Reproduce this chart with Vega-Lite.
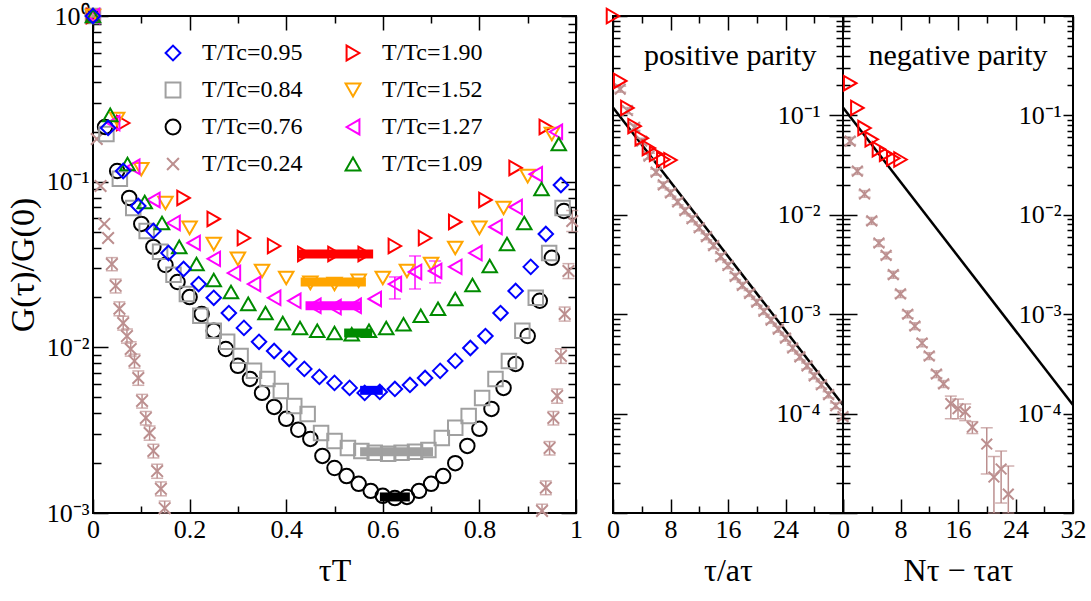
{
  "$schema": "https://vega.github.io/schema/vega-lite/v6.json",
  "background": "white",
  "padding": {"left": 5, "top": 2, "right": 5, "bottom": 5},
  "bounds": "flush",
  "spacing": 37,
  "config": {
    "view": {"stroke": "black", "strokeWidth": 2},
    "font": "Liberation Serif",
    "axis": {"domain": false, "grid": false, "tickColor": "black", "tickWidth": 1.5, "labelFont": "Liberation Serif", "labelFontSize": 26, "labelColor": "black", "titleFont": "Liberation Serif", "titleFontSize": 32, "titleFontWeight": "normal", "titleColor": "black", "labelOverlap": false, "labelFlush": false, "labelBound": false}
  },
  "datasets": {
    "left": [
      {"s":"T/Tc=0.24","x":0,"y":1},{"s":"T/Tc=0.24","x":0.0078,"y":0.181},{"s":"T/Tc=0.24","x":0.0156,"y":0.0942},{"s":"T/Tc=0.24","x":0.0234,"y":0.0556},{"s":"T/Tc=0.24","x":0.0313,"y":0.0457},
      {"s":"T/Tc=0.24","x":0.0391,"y":0.0318,"lo":0.029,"hi":0.0348},{"s":"T/Tc=0.24","x":0.0469,"y":0.0235,"lo":0.0213,"hi":0.0258},{"s":"T/Tc=0.24","x":0.0547,"y":0.0171,"lo":0.0155,"hi":0.0188},{"s":"T/Tc=0.24","x":0.0625,"y":0.014,"lo":0.0127,"hi":0.0154},{"s":"T/Tc=0.24","x":0.0703,"y":0.0117,"lo":0.0106,"hi":0.0129},{"s":"T/Tc=0.24","x":0.0781,"y":0.00977,"lo":0.00885,"hi":0.0108},{"s":"T/Tc=0.24","x":0.0859,"y":0.00828,"lo":0.0075,"hi":0.0091},{"s":"T/Tc=0.24","x":0.0938,"y":0.00653,"lo":0.0059,"hi":0.0072},{"s":"T/Tc=0.24","x":0.1016,"y":0.00475,"lo":0.0043,"hi":0.0052},{"s":"T/Tc=0.24","x":0.1094,"y":0.00375,"lo":0.0034,"hi":0.0041},{"s":"T/Tc=0.24","x":0.1172,"y":0.00304,"lo":0.00275,"hi":0.00335},{"s":"T/Tc=0.24","x":0.125,"y":0.00237,"lo":0.00215,"hi":0.0026},{"s":"T/Tc=0.24","x":0.1328,"y":0.00179,"lo":0.00162,"hi":0.00197},{"s":"T/Tc=0.24","x":0.1406,"y":0.0014,"lo":0.00127,"hi":0.00154},{"s":"T/Tc=0.24","x":0.1484,"y":0.00107,"lo":0.001,"hi":0.00118},
      {"s":"T/Tc=0.24","x":0.9297,"y":0.00103,"lo":0.001,"hi":0.00113},{"s":"T/Tc=0.24","x":0.9375,"y":0.00142,"lo":0.00129,"hi":0.00156},{"s":"T/Tc=0.24","x":0.9453,"y":0.00247,"lo":0.00224,"hi":0.0027},{"s":"T/Tc=0.24","x":0.9531,"y":0.00375,"lo":0.0034,"hi":0.0041},{"s":"T/Tc=0.24","x":0.9609,"y":0.00509,"lo":0.0046,"hi":0.0056},{"s":"T/Tc=0.24","x":0.9688,"y":0.00888,"lo":0.008,"hi":0.0098},{"s":"T/Tc=0.24","x":0.9766,"y":0.0159,"lo":0.0144,"hi":0.0175},{"s":"T/Tc=0.24","x":0.9844,"y":0.0289,"lo":0.026,"hi":0.032},{"s":"T/Tc=0.24","x":0.9922,"y":0.0579,"lo":0.05,"hi":0.067},
      {"s":"T/Tc=0.76","x":0,"y":1},{"s":"T/Tc=0.76","x":0.025,"y":0.214},{"s":"T/Tc=0.76","x":0.05,"y":0.116},{"s":"T/Tc=0.76","x":0.075,"y":0.0798},{"s":"T/Tc=0.76","x":0.1,"y":0.0556},{"s":"T/Tc=0.76","x":0.125,"y":0.0404},{"s":"T/Tc=0.76","x":0.15,"y":0.0314},{"s":"T/Tc=0.76","x":0.175,"y":0.0248},{"s":"T/Tc=0.76","x":0.2,"y":0.0201},{"s":"T/Tc=0.76","x":0.225,"y":0.0159},{"s":"T/Tc=0.76","x":0.25,"y":0.0126},{"s":"T/Tc=0.76","x":0.275,"y":0.00977},{"s":"T/Tc=0.76","x":0.3,"y":0.00773},{"s":"T/Tc=0.76","x":0.325,"y":0.00645},{"s":"T/Tc=0.76","x":0.35,"y":0.00531},{"s":"T/Tc=0.76","x":0.375,"y":0.00437},{"s":"T/Tc=0.76","x":0.4,"y":0.0037},{"s":"T/Tc=0.76","x":0.425,"y":0.00318},{"s":"T/Tc=0.76","x":0.45,"y":0.0028},{"s":"T/Tc=0.76","x":0.475,"y":0.00221},{"s":"T/Tc=0.76","x":0.5,"y":0.00187},{"s":"T/Tc=0.76","x":0.525,"y":0.00167},{"s":"T/Tc=0.76","x":0.55,"y":0.0015},{"s":"T/Tc=0.76","x":0.575,"y":0.00136},{"s":"T/Tc=0.76","x":0.6,"y":0.00127},{"s":"T/Tc=0.76","x":0.625,"y":0.00123},{"s":"T/Tc=0.76","x":0.65,"y":0.00125},{"s":"T/Tc=0.76","x":0.675,"y":0.00136},{"s":"T/Tc=0.76","x":0.7,"y":0.0015},{"s":"T/Tc=0.76","x":0.725,"y":0.00167},{"s":"T/Tc=0.76","x":0.75,"y":0.002},{"s":"T/Tc=0.76","x":0.775,"y":0.00254},{"s":"T/Tc=0.76","x":0.8,"y":0.00322},{"s":"T/Tc=0.76","x":0.825,"y":0.00425},{"s":"T/Tc=0.76","x":0.85,"y":0.00569},{"s":"T/Tc=0.76","x":0.875,"y":0.00794},{"s":"T/Tc=0.76","x":0.9,"y":0.0117},{"s":"T/Tc=0.76","x":0.925,"y":0.0191},{"s":"T/Tc=0.76","x":0.95,"y":0.0347},{"s":"T/Tc=0.76","x":0.975,"y":0.0665},
      {"s":"T/Tc=0.84","x":0,"y":1},{"s":"T/Tc=0.84","x":0.0278,"y":0.194},{"s":"T/Tc=0.84","x":0.0556,"y":0.104},{"s":"T/Tc=0.84","x":0.0833,"y":0.0694},{"s":"T/Tc=0.84","x":0.1111,"y":0.0504},{"s":"T/Tc=0.84","x":0.1389,"y":0.0377},{"s":"T/Tc=0.84","x":0.1667,"y":0.0274},{"s":"T/Tc=0.84","x":0.1944,"y":0.021},{"s":"T/Tc=0.84","x":0.2222,"y":0.0155},{"s":"T/Tc=0.84","x":0.25,"y":0.0126},{"s":"T/Tc=0.84","x":0.2778,"y":0.0108},{"s":"T/Tc=0.84","x":0.3056,"y":0.00888},{"s":"T/Tc=0.84","x":0.3333,"y":0.00721},{"s":"T/Tc=0.84","x":0.3611,"y":0.00645},{"s":"T/Tc=0.84","x":0.3889,"y":0.00545},{"s":"T/Tc=0.84","x":0.4167,"y":0.00443},{"s":"T/Tc=0.84","x":0.4444,"y":0.00396},{"s":"T/Tc=0.84","x":0.4722,"y":0.00304},{"s":"T/Tc=0.84","x":0.5,"y":0.00272},{"s":"T/Tc=0.84","x":0.5278,"y":0.00247},{"s":"T/Tc=0.84","x":0.5556,"y":0.00237},{"s":"T/Tc=0.84","x":0.5833,"y":0.00231},{"s":"T/Tc=0.84","x":0.6111,"y":0.00228},{"s":"T/Tc=0.84","x":0.6389,"y":0.00231},{"s":"T/Tc=0.84","x":0.6667,"y":0.00234},{"s":"T/Tc=0.84","x":0.6944,"y":0.0024},{"s":"T/Tc=0.84","x":0.7222,"y":0.00284},{"s":"T/Tc=0.84","x":0.75,"y":0.00327},{"s":"T/Tc=0.84","x":0.7778,"y":0.00385},{"s":"T/Tc=0.84","x":0.8056,"y":0.00495},{"s":"T/Tc=0.84","x":0.8333,"y":0.00645},{"s":"T/Tc=0.84","x":0.8611,"y":0.00828},{"s":"T/Tc=0.84","x":0.8889,"y":0.0126},{"s":"T/Tc=0.84","x":0.9167,"y":0.0199},{"s":"T/Tc=0.84","x":0.9444,"y":0.0371},{"s":"T/Tc=0.84","x":0.9722,"y":0.0694},
      {"s":"T/Tc=1.90","x":0,"y":1},{"s":"T/Tc=1.90","x":0.0625,"y":0.226},{"s":"T/Tc=1.90","x":0.1875,"y":0.0798},{"s":"T/Tc=1.90","x":0.25,"y":0.0596},{"s":"T/Tc=1.90","x":0.3125,"y":0.0457},{"s":"T/Tc=1.90","x":0.375,"y":0.0409},{"s":"T/Tc=1.90","x":0.4375,"y":0.0366},{"s":"T/Tc=1.90","x":0.5,"y":0.0366},{"s":"T/Tc=1.90","x":0.5625,"y":0.0366},{"s":"T/Tc=1.90","x":0.625,"y":0.0409},{"s":"T/Tc=1.90","x":0.6875,"y":0.0457},{"s":"T/Tc=1.90","x":0.75,"y":0.0571},{"s":"T/Tc=1.90","x":0.8125,"y":0.0776},{"s":"T/Tc=1.90","x":0.875,"y":0.121},{"s":"T/Tc=1.90","x":0.9375,"y":0.214},
      {"s":"T/Tc=1.52","x":0,"y":1},{"s":"T/Tc=1.52","x":0.05,"y":0.239},{"s":"T/Tc=1.52","x":0.1,"y":0.119},{"s":"T/Tc=1.52","x":0.15,"y":0.0744},{"s":"T/Tc=1.52","x":0.2,"y":0.0526},{"s":"T/Tc=1.52","x":0.25,"y":0.0421},{"s":"T/Tc=1.52","x":0.3,"y":0.0342},{"s":"T/Tc=1.52","x":0.35,"y":0.0289},{"s":"T/Tc=1.52","x":0.4,"y":0.0262},{"s":"T/Tc=1.52","x":0.45,"y":0.0245},{"s":"T/Tc=1.52","x":0.5,"y":0.0241},{"s":"T/Tc=1.52","x":0.55,"y":0.0252},{"s":"T/Tc=1.52","x":0.6,"y":0.0262},{"s":"T/Tc=1.52","x":0.65,"y":0.0289},{"s":"T/Tc=1.52","x":0.7,"y":0.0318},{"s":"T/Tc=1.52","x":0.75,"y":0.0398},{"s":"T/Tc=1.52","x":0.8,"y":0.0526},{"s":"T/Tc=1.52","x":0.85,"y":0.0694},{"s":"T/Tc=1.52","x":0.9,"y":0.108},{"s":"T/Tc=1.52","x":0.95,"y":0.194},
      {"s":"T/Tc=1.27","x":0,"y":1},{"s":"T/Tc=1.27","x":0.0417,"y":0.226},{"s":"T/Tc=1.27","x":0.0833,"y":0.123},{"s":"T/Tc=1.27","x":0.125,"y":0.0776},{"s":"T/Tc=1.27","x":0.1667,"y":0.0563},{"s":"T/Tc=1.27","x":0.2083,"y":0.0427},{"s":"T/Tc=1.27","x":0.25,"y":0.0342},{"s":"T/Tc=1.27","x":0.2917,"y":0.0281},{"s":"T/Tc=1.27","x":0.3333,"y":0.0241},{"s":"T/Tc=1.27","x":0.375,"y":0.0199},{"s":"T/Tc=1.27","x":0.4167,"y":0.0191},{"s":"T/Tc=1.27","x":0.4583,"y":0.0178},{"s":"T/Tc=1.27","x":0.5,"y":0.0175},{"s":"T/Tc=1.27","x":0.5417,"y":0.0178},{"s":"T/Tc=1.27","x":0.5833,"y":0.0196},{"s":"T/Tc=1.27","x":0.625,"y":0.0241,"lo":0.0196,"hi":0.0266},{"s":"T/Tc=1.27","x":0.6667,"y":0.0285,"lo":0.0225,"hi":0.0356},{"s":"T/Tc=1.27","x":0.7083,"y":0.0289,"lo":0.0245,"hi":0.0332},{"s":"T/Tc=1.27","x":0.75,"y":0.0306},{"s":"T/Tc=1.27","x":0.7917,"y":0.0371},{"s":"T/Tc=1.27","x":0.8333,"y":0.0533},{"s":"T/Tc=1.27","x":0.875,"y":0.0703},{"s":"T/Tc=1.27","x":0.9167,"y":0.111},{"s":"T/Tc=1.27","x":0.9583,"y":0.2},
      {"s":"T/Tc=1.09","x":0,"y":1},{"s":"T/Tc=1.09","x":0.0357,"y":0.253},{"s":"T/Tc=1.09","x":0.0714,"y":0.128},{"s":"T/Tc=1.09","x":0.1071,"y":0.0754},{"s":"T/Tc=1.09","x":0.1429,"y":0.0563},{"s":"T/Tc=1.09","x":0.1786,"y":0.0404},{"s":"T/Tc=1.09","x":0.2143,"y":0.0318},{"s":"T/Tc=1.09","x":0.25,"y":0.0255},{"s":"T/Tc=1.09","x":0.2857,"y":0.0216},{"s":"T/Tc=1.09","x":0.3214,"y":0.0183},{"s":"T/Tc=1.09","x":0.3571,"y":0.0161},{"s":"T/Tc=1.09","x":0.3929,"y":0.014},{"s":"T/Tc=1.09","x":0.4286,"y":0.0131},{"s":"T/Tc=1.09","x":0.4643,"y":0.0126},{"s":"T/Tc=1.09","x":0.5,"y":0.0122},{"s":"T/Tc=1.09","x":0.5357,"y":0.012},{"s":"T/Tc=1.09","x":0.5714,"y":0.0126},{"s":"T/Tc=1.09","x":0.6071,"y":0.0131},{"s":"T/Tc=1.09","x":0.6429,"y":0.0138},{"s":"T/Tc=1.09","x":0.6786,"y":0.0155},{"s":"T/Tc=1.09","x":0.7143,"y":0.0171},{"s":"T/Tc=1.09","x":0.75,"y":0.0196},{"s":"T/Tc=1.09","x":0.7857,"y":0.0238},{"s":"T/Tc=1.09","x":0.8214,"y":0.031},{"s":"T/Tc=1.09","x":0.8571,"y":0.0421},{"s":"T/Tc=1.09","x":0.8929,"y":0.0563},{"s":"T/Tc=1.09","x":0.9286,"y":0.0903},{"s":"T/Tc=1.09","x":0.9643,"y":0.169},
      {"s":"T/Tc=0.95","x":0,"y":1},{"s":"T/Tc=0.95","x":0.03125,"y":0.211},{"s":"T/Tc=0.95","x":0.0625,"y":0.116},{"s":"T/Tc=0.95","x":0.09375,"y":0.0713},{"s":"T/Tc=0.95","x":0.125,"y":0.0504},{"s":"T/Tc=0.95","x":0.15625,"y":0.0371},{"s":"T/Tc=0.95","x":0.1875,"y":0.0297},{"s":"T/Tc=0.95","x":0.21875,"y":0.0241},{"s":"T/Tc=0.95","x":0.25,"y":0.0199},{"s":"T/Tc=0.95","x":0.28125,"y":0.0161},{"s":"T/Tc=0.95","x":0.3125,"y":0.0131},{"s":"T/Tc=0.95","x":0.34375,"y":0.0108},{"s":"T/Tc=0.95","x":0.375,"y":0.0095},{"s":"T/Tc=0.95","x":0.40625,"y":0.0085},{"s":"T/Tc=0.95","x":0.4375,"y":0.00741},{"s":"T/Tc=0.95","x":0.46875,"y":0.00663},{"s":"T/Tc=0.95","x":0.5,"y":0.0061},{"s":"T/Tc=0.95","x":0.53125,"y":0.00569},{"s":"T/Tc=0.95","x":0.5625,"y":0.00531},{"s":"T/Tc=0.95","x":0.59375,"y":0.00538},{"s":"T/Tc=0.95","x":0.625,"y":0.00561},{"s":"T/Tc=0.95","x":0.65625,"y":0.00593},{"s":"T/Tc=0.95","x":0.6875,"y":0.00653},{"s":"T/Tc=0.95","x":0.71875,"y":0.00721},{"s":"T/Tc=0.95","x":0.75,"y":0.00828},{"s":"T/Tc=0.95","x":0.78125,"y":0.00991},{"s":"T/Tc=0.95","x":0.8125,"y":0.0117},{"s":"T/Tc=0.95","x":0.84375,"y":0.0161},{"s":"T/Tc=0.95","x":0.875,"y":0.0219},{"s":"T/Tc=0.95","x":0.90625,"y":0.0306},{"s":"T/Tc=0.95","x":0.9375,"y":0.0483},{"s":"T/Tc=0.95","x":0.96875,"y":0.0955}
    ],
    "plateau": [
      {"s":"T/Tc=1.90","x":0.425,"y":0.0366},{"s":"T/Tc=1.90","x":0.58,"y":0.0366},
      {"s":"T/Tc=1.52","x":0.43,"y":0.0248},{"s":"T/Tc=1.52","x":0.565,"y":0.0248},
      {"s":"T/Tc=1.27","x":0.44,"y":0.0178},{"s":"T/Tc=1.27","x":0.555,"y":0.0178},
      {"s":"T/Tc=1.09","x":0.52,"y":0.0122},{"s":"T/Tc=1.09","x":0.578,"y":0.0122},
      {"s":"T/Tc=0.95","x":0.553,"y":0.0055},{"s":"T/Tc=0.95","x":0.6,"y":0.0055},
      {"s":"T/Tc=0.84","x":0.553,"y":0.00234},{"s":"T/Tc=0.84","x":0.704,"y":0.00234},
      {"s":"T/Tc=0.76","x":0.594,"y":0.00125},{"s":"T/Tc=0.76","x":0.656,"y":0.00125}
    ],
    "fit": [{"x":0,"y":0.12},{"x":32,"y":0.000122}],
    "pos": [
      {"s":"T/Tc=1.90","x":0,"y":1},{"s":"T/Tc=1.90","x":1,"y":0.222},{"s":"T/Tc=1.90","x":2,"y":0.119},{"s":"T/Tc=1.90","x":3,"y":0.078},{"s":"T/Tc=1.90","x":4,"y":0.059},{"s":"T/Tc=1.90","x":5,"y":0.047},{"s":"T/Tc=1.90","x":6,"y":0.041},{"s":"T/Tc=1.90","x":7,"y":0.036},{"s":"T/Tc=1.90","x":8,"y":0.0355},
      {"s":"T/Tc=0.24","x":1,"y":0.184,"lo":0.171,"hi":0.197},{"s":"T/Tc=0.24","x":2,"y":0.112,"lo":0.104,"hi":0.12},{"s":"T/Tc=0.24","x":3,"y":0.0759,"lo":0.0706,"hi":0.0812},{"s":"T/Tc=0.24","x":4,"y":0.055,"lo":0.0512,"hi":0.0589},{"s":"T/Tc=0.24","x":5,"y":0.0389,"lo":0.0362,"hi":0.0416},{"s":"T/Tc=0.24","x":6,"y":0.0269,"lo":0.025,"hi":0.0288},{"s":"T/Tc=0.24","x":7,"y":0.02,"lo":0.0186,"hi":0.0214},{"s":"T/Tc=0.24","x":8,"y":0.0166,"lo":0.0154,"hi":0.0178},{"s":"T/Tc=0.24","x":9,"y":0.0135,"lo":0.0126,"hi":0.0144},{"s":"T/Tc=0.24","x":10,"y":0.011,"lo":0.0102,"hi":0.0118},{"s":"T/Tc=0.24","x":11,"y":0.00912,"lo":0.00848,"hi":0.00976},{"s":"T/Tc=0.24","x":12,"y":0.00741,"lo":0.00689,"hi":0.00793},{"s":"T/Tc=0.24","x":13,"y":0.00603,"lo":0.00561,"hi":0.00645},{"s":"T/Tc=0.24","x":14,"y":0.0049,"lo":0.00456,"hi":0.00524},{"s":"T/Tc=0.24","x":15,"y":0.0038,"lo":0.00353,"hi":0.00407},{"s":"T/Tc=0.24","x":16,"y":0.00309,"lo":0.00287,"hi":0.00331},{"s":"T/Tc=0.24","x":17,"y":0.0024,"lo":0.00223,"hi":0.00257},{"s":"T/Tc=0.24","x":18,"y":0.00195,"lo":0.00181,"hi":0.00209},{"s":"T/Tc=0.24","x":19,"y":0.00162,"lo":0.00151,"hi":0.00173},{"s":"T/Tc=0.24","x":20,"y":0.00132,"lo":0.00123,"hi":0.00141},{"s":"T/Tc=0.24","x":21,"y":0.00107,"lo":0.000995,"hi":0.00114},{"s":"T/Tc=0.24","x":22,"y":0.000871,"lo":0.00081,"hi":0.000932},{"s":"T/Tc=0.24","x":23,"y":0.000708,"lo":0.000658,"hi":0.000758},{"s":"T/Tc=0.24","x":24,"y":0.000575,"lo":0.000535,"hi":0.000615},{"s":"T/Tc=0.24","x":25,"y":0.000457,"lo":0.000425,"hi":0.000489},{"s":"T/Tc=0.24","x":26,"y":0.000372,"lo":0.000346,"hi":0.000398},{"s":"T/Tc=0.24","x":27,"y":0.000302,"lo":0.000281,"hi":0.000323},{"s":"T/Tc=0.24","x":28,"y":0.00024,"lo":0.000223,"hi":0.000257},{"s":"T/Tc=0.24","x":29,"y":0.000195,"lo":0.000181,"hi":0.000209},{"s":"T/Tc=0.24","x":30,"y":0.000155,"lo":0.000144,"hi":0.000166},{"s":"T/Tc=0.24","x":31,"y":0.00012,"lo":0.000112,"hi":0.000128},{"s":"T/Tc=0.24","x":32,"y":0.0000933,"lo":0.0000868,"hi":0.0000998}
    ],
    "neg": [
      {"s":"T/Tc=1.90","x":1,"y":0.211},{"s":"T/Tc=1.90","x":2,"y":0.119},{"s":"T/Tc=1.90","x":3,"y":0.0746},{"s":"T/Tc=1.90","x":4,"y":0.0575},{"s":"T/Tc=1.90","x":5,"y":0.0457},{"s":"T/Tc=1.90","x":6,"y":0.041},{"s":"T/Tc=1.90","x":7,"y":0.037},{"s":"T/Tc=1.90","x":8,"y":0.036},
      {"s":"T/Tc=0.24","x":1,"y":0.0552,"lo":0.051,"hi":0.06},{"s":"T/Tc=0.24","x":2,"y":0.0275,"lo":0.0255,"hi":0.0297},{"s":"T/Tc=0.24","x":3,"y":0.0162,"lo":0.015,"hi":0.0175},{"s":"T/Tc=0.24","x":4,"y":0.0087,"lo":0.008,"hi":0.0094},{"s":"T/Tc=0.24","x":5,"y":0.0052,"lo":0.0048,"hi":0.0056},{"s":"T/Tc=0.24","x":6,"y":0.0039,"lo":0.0036,"hi":0.0042},{"s":"T/Tc=0.24","x":7,"y":0.0025,"lo":0.0023,"hi":0.0027},{"s":"T/Tc=0.24","x":8,"y":0.0016,"lo":0.00147,"hi":0.00173},{"s":"T/Tc=0.24","x":9,"y":0.001,"lo":0.00092,"hi":0.00108},{"s":"T/Tc=0.24","x":10,"y":0.00076,"lo":0.0007,"hi":0.00082},{"s":"T/Tc=0.24","x":11,"y":0.000513,"lo":0.00047,"hi":0.00056},{"s":"T/Tc=0.24","x":12,"y":0.00038,"lo":0.00035,"hi":0.00041},{"s":"T/Tc=0.24","x":13,"y":0.00025,"lo":0.00023,"hi":0.00027},{"s":"T/Tc=0.24","x":14,"y":0.000199,"lo":0.000183,"hi":0.000215},{"s":"T/Tc=0.24","x":15,"y":0.000126,"lo":0.0000888,"hi":0.00015},{"s":"T/Tc=0.24","x":16,"y":0.000112,"lo":0.0000888,"hi":0.00014},{"s":"T/Tc=0.24","x":17,"y":0.000104,"lo":0.000085,"hi":0.000125},{"s":"T/Tc=0.24","x":18,"y":0.000073,"lo":0.000063,"hi":0.000083},{"s":"T/Tc=0.24","x":20,"y":0.0000494,"lo":0.0000247,"hi":0.000072},{"s":"T/Tc=0.24","x":21,"y":0.000023,"lo":0.00001,"hi":0.000037},{"s":"T/Tc=0.24","x":22,"y":0.0000277,"lo":0.0000126,"hi":0.000042},{"s":"T/Tc=0.24","x":23,"y":0.0000155,"lo":0.00001,"hi":0.0000297}
    ]
  },
  "hconcat": [
    {
      "width": 483, "height": 497,
      "data": {"name": "left"},
      "layer": [
        {
          "data": {"name": "plateau"},
          "mark": {"type": "line", "strokeWidth": 9},
          "encoding": {
            "x": {"field": "x", "type": "quantitative", "scale": {"domain": [0, 1], "nice": false, "zero": false},
              "axis": {"orient": "bottom", "values": [0,0.1,0.2,0.3,0.4,0.5,0.6,0.7,0.8,0.9,1], "labelExpr": "round(datum.value*10)%2==0 ? format(datum.value,'~g') : ''", "tickSize": {"condition": {"test": "round(datum.value*10)%2==0", "value": -14}, "value": -7}, "labelPadding": 17, "title": "τT", "titlePadding": 6}},
            "y": {"field": "y", "type": "quantitative", "scale": {"type": "log", "domain": [0.001, 1], "nice": false},
              "axis": {"orient": "left", "values": [0.001,0.002,0.003,0.004,0.005,0.006,0.007,0.008,0.009,0.01,0.02,0.03,0.04,0.05,0.06,0.07,0.08,0.09,0.1,0.2,0.3,0.4,0.5,0.6,0.7,0.8,0.9,1], "labelExpr": "abs(log(datum.value)/LN10-round(log(datum.value)/LN10))>0.01 ? '' : ['10⁰','10⁻¹','10⁻²','10⁻³','10⁻⁴','10⁻⁵'][-round(log(datum.value)/LN10)]", "tickSize": {"condition": {"test": "abs(log(datum.value)/LN10-round(log(datum.value)/LN10))<0.01", "value": -15}, "value": -8}, "labelPadding": 19, "title": "G(τ)/G(0)", "titleFontSize": 34, "titlePadding": 6}},
            "color": {"field": "s", "type": "nominal", "legend": null,
              "scale": {"domain": ["T/Tc=0.95","T/Tc=0.84","T/Tc=0.76","T/Tc=0.24","T/Tc=1.90","T/Tc=1.52","T/Tc=1.27","T/Tc=1.09"], "range": ["#0000ff","#a0a0a0","#000000","#bc8f8f","#ff0000","#ffa500","#ff00ff","#008b00"]}},
            "detail": {"field": "s"}
          }
        },
        {
          "transform": [{"filter": "isValid(datum.lo)"}],
          "mark": {"type": "rule", "strokeWidth": 1.5},
          "encoding": {
            "x": {"field": "x", "type": "quantitative", "axis": null},
            "y": {"field": "lo", "type": "quantitative", "axis": null},
            "y2": {"field": "hi"},
            "color": {"field": "s", "type": "nominal", "legend": null,
              "scale": {"domain": ["T/Tc=0.95","T/Tc=0.84","T/Tc=0.76","T/Tc=0.24","T/Tc=1.90","T/Tc=1.52","T/Tc=1.27","T/Tc=1.09"], "range": ["#0000ff","#a0a0a0","#000000","#bc8f8f","#ff0000","#ffa500","#ff00ff","#008b00"]}}
          }
        },
        {
          "transform": [{"filter": "isValid(datum.lo)"}, {"fold": ["lo", "hi"], "as": ["k", "v"]}],
          "mark": {"type": "tick", "orient": "horizontal", "size": 12, "thickness": 1.5},
          "encoding": {
            "x": {"field": "x", "type": "quantitative", "axis": null},
            "y": {"field": "v", "type": "quantitative", "axis": null},
            "color": {"field": "s", "type": "nominal", "legend": null,
              "scale": {"domain": ["T/Tc=0.95","T/Tc=0.84","T/Tc=0.76","T/Tc=0.24","T/Tc=1.90","T/Tc=1.52","T/Tc=1.27","T/Tc=1.09"], "range": ["#0000ff","#a0a0a0","#000000","#bc8f8f","#ff0000","#ffa500","#ff00ff","#008b00"]}}
          }
        },
        {
          "mark": {"type": "point", "filled": false, "size": 210, "strokeWidth": 2, "opacity": 1},
          "encoding": {
            "x": {"field": "x", "type": "quantitative",
              "axis": {"orient": "top", "values": [0,0.1,0.2,0.3,0.4,0.5,0.6,0.7,0.8,0.9,1], "labels": false, "title": null, "tickSize": {"condition": {"test": "round(datum.value*10)%2==0", "value": -14}, "value": -7}}},
            "y": {"field": "y", "type": "quantitative",
              "axis": {"orient": "right", "values": [0.001,0.002,0.003,0.004,0.005,0.006,0.007,0.008,0.009,0.01,0.02,0.03,0.04,0.05,0.06,0.07,0.08,0.09,0.1,0.2,0.3,0.4,0.5,0.6,0.7,0.8,0.9,1], "labels": false, "title": null, "tickSize": {"condition": {"test": "abs(log(datum.value)/LN10-round(log(datum.value)/LN10))<0.01", "value": -15}, "value": -8}}},
            "color": {"field": "s", "type": "nominal",
              "scale": {"domain": ["T/Tc=0.95","T/Tc=0.84","T/Tc=0.76","T/Tc=0.24","T/Tc=1.90","T/Tc=1.52","T/Tc=1.27","T/Tc=1.09"], "range": ["#0000ff","#a0a0a0","#000000","#bc8f8f","#ff0000","#ffa500","#ff00ff","#008b00"]},
              "legend": {"orient": "none", "legendX": 68, "legendY": 25, "columns": 2, "title": null, "labelFont": "Liberation Serif", "labelFontSize": 24, "labelColor": "black", "symbolSize": 220, "symbolStrokeWidth": 2, "rowPadding": 13, "columnPadding": 38, "labelOffset": 17}},
            "shape": {"field": "s", "type": "nominal",
              "scale": {"domain": ["T/Tc=0.95","T/Tc=0.84","T/Tc=0.76","T/Tc=0.24","T/Tc=1.90","T/Tc=1.52","T/Tc=1.27","T/Tc=1.09"], "range": ["diamond","square","circle","M-0.8,-0.8L0.8,0.8M-0.8,0.8L0.8,-0.8","triangle-right","triangle-down","triangle-left","triangle-up"]},
              "legend": {"orient": "none", "legendX": 68, "legendY": 25, "columns": 2, "title": null, "labelFont": "Liberation Serif", "labelFontSize": 24, "labelColor": "black", "symbolSize": 220, "symbolStrokeWidth": 2, "rowPadding": 13, "columnPadding": 38, "labelOffset": 17}}
          }
        }
      ],
      "resolve": {"scale": {"color": "independent", "shape": "independent"}, "legend": {"color": "independent", "shape": "independent"}, "axis": {"x": "independent", "y": "independent"}}
    },
    {
      "hconcat": [
        {
          "width": 230, "height": 497,
          "data": {"name": "pos"},
          "layer": [
            {
              "data": {"name": "fit"},
              "mark": {"type": "line", "color": "black", "strokeWidth": 2.5},
              "encoding": {
                "x": {"field": "x", "type": "quantitative", "scale": {"domain": [0, 32], "nice": false, "zero": false},
                  "axis": {"orient": "bottom", "values": [0,4,8,12,16,20,24,28,32], "labelExpr": "datum.value%8==0 && datum.value<32 ? datum.label : ''", "tickSize": {"condition": {"test": "datum.value%8==0", "value": -14}, "value": -7}, "labelPadding": 17, "title": "τ/aτ", "titlePadding": 6}},
                "y": {"field": "y", "type": "quantitative", "scale": {"type": "log", "domain": [0.00001, 1], "nice": false},
                  "axis": {"orient": "left", "values": [0.00001,0.00002,0.00003,0.00004,0.00005,0.00006,0.00007,0.00008,0.00009,0.0001,0.0002,0.0003,0.0004,0.0005,0.0006,0.0007,0.0008,0.0009,0.001,0.002,0.003,0.004,0.005,0.006,0.007,0.008,0.009,0.01,0.02,0.03,0.04,0.05,0.06,0.07,0.08,0.09,0.1,0.2,0.3,0.4,0.5,0.6,0.7,0.8,0.9,1], "labels": false, "title": null, "tickSize": {"condition": {"test": "abs(log(datum.value)/LN10-round(log(datum.value)/LN10))<0.01", "value": -14}, "value": -7}}}
              }
            },
            {
              "transform": [{"filter": "isValid(datum.lo)"}],
              "mark": {"type": "rule", "strokeWidth": 1.5, "color": "#bc8f8f"},
              "encoding": {
                "x": {"field": "x", "type": "quantitative", "axis": null},
                "y": {"field": "lo", "type": "quantitative", "axis": null},
                "y2": {"field": "hi"}
              }
            },
            {
              "transform": [{"filter": "isValid(datum.lo)"}, {"fold": ["lo", "hi"], "as": ["k", "v"]}],
              "mark": {"type": "tick", "orient": "horizontal", "size": 12, "thickness": 1.5, "color": "#bc8f8f"},
              "encoding": {
                "x": {"field": "x", "type": "quantitative", "axis": null},
                "y": {"field": "v", "type": "quantitative", "axis": null}
              }
            },
            {
              "transform": [{"filter": "datum.s=='T/Tc=0.24'"}],
              "mark": {"type": "point", "filled": false, "size": 180, "strokeWidth": 2, "color": "#bc8f8f", "opacity": 1, "shape": "M-0.8,-0.8L0.8,0.8M-0.8,0.8L0.8,-0.8"},
              "encoding": {
                "x": {"field": "x", "type": "quantitative",
                  "axis": {"orient": "top", "values": [0,4,8,12,16,20,24,28,32], "labels": false, "title": null, "tickSize": {"condition": {"test": "datum.value%8==0", "value": -14}, "value": -7}}},
                "y": {"field": "y", "type": "quantitative",
                  "axis": {"orient": "left", "offset": -230, "values": [0.00001,0.00002,0.00003,0.00004,0.00005,0.00006,0.00007,0.00008,0.00009,0.0001,0.0002,0.0003,0.0004,0.0005,0.0006,0.0007,0.0008,0.0009,0.001,0.002,0.003,0.004,0.005,0.006,0.007,0.008,0.009,0.01,0.02,0.03,0.04,0.05,0.06,0.07,0.08,0.09,0.1,0.2,0.3,0.4,0.5,0.6,0.7,0.8,0.9,1], "labelExpr": "abs(log(datum.value)/LN10-round(log(datum.value)/LN10))>0.01 ? '' : ['','10⁻¹','10⁻²','10⁻³','10⁻⁴','',''][-round(log(datum.value)/LN10)]", "tickSize": {"condition": {"test": "abs(log(datum.value)/LN10-round(log(datum.value)/LN10))<0.01", "value": 14}, "value": 7}, "labelPadding": 9, "title": null}}
              }
            },
            {
              "transform": [{"filter": "datum.s=='T/Tc=1.90'"}],
              "mark": {"type": "point", "filled": false, "size": 210, "strokeWidth": 2, "color": "#ff0000", "opacity": 1, "shape": "triangle-right"},
              "encoding": {
                "x": {"field": "x", "type": "quantitative", "axis": null},
                "y": {"field": "y", "type": "quantitative", "axis": null}
              }
            },
            {
              "data": {"values": [{"label": "positive parity"}]},
              "mark": {"type": "text", "fontSize": 30, "font": "Liberation Serif", "color": "black", "align": "center", "baseline": "middle"},
              "encoding": {
                "x": {"datum": 16.3, "type": "quantitative", "axis": null},
                "y": {"datum": 0.4, "type": "quantitative", "axis": null},
                "text": {"field": "label"}
              }
            }
          ],
          "resolve": {"axis": {"x": "independent", "y": "independent"}}
        },
        {
          "width": 230, "height": 497,
          "data": {"name": "neg"},
          "layer": [
            {
              "data": {"name": "fit"},
              "mark": {"type": "line", "color": "black", "strokeWidth": 2.5},
              "encoding": {
                "x": {"field": "x", "type": "quantitative", "scale": {"domain": [0, 32], "nice": false, "zero": false},
                  "axis": {"orient": "bottom", "values": [0,4,8,12,16,20,24,28,32], "labelExpr": "datum.value%8==0 ? datum.label : ''", "tickSize": {"condition": {"test": "datum.value%8==0", "value": -14}, "value": -7}, "labelPadding": 17, "title": "Nτ − τaτ", "titlePadding": 6}},
                "y": {"field": "y", "type": "quantitative", "scale": {"type": "log", "domain": [0.00001, 1], "nice": false},
                  "axis": {"orient": "left", "values": [0.00001,0.00002,0.00003,0.00004,0.00005,0.00006,0.00007,0.00008,0.00009,0.0001,0.0002,0.0003,0.0004,0.0005,0.0006,0.0007,0.0008,0.0009,0.001,0.002,0.003,0.004,0.005,0.006,0.007,0.008,0.009,0.01,0.02,0.03,0.04,0.05,0.06,0.07,0.08,0.09,0.1,0.2,0.3,0.4,0.5,0.6,0.7,0.8,0.9,1], "labels": false, "title": null, "tickSize": {"condition": {"test": "abs(log(datum.value)/LN10-round(log(datum.value)/LN10))<0.01", "value": -14}, "value": -7}}}
              }
            },
            {
              "transform": [{"filter": "isValid(datum.lo)"}],
              "mark": {"type": "rule", "strokeWidth": 1.5, "color": "#bc8f8f"},
              "encoding": {
                "x": {"field": "x", "type": "quantitative", "axis": null},
                "y": {"field": "lo", "type": "quantitative", "axis": null},
                "y2": {"field": "hi"}
              }
            },
            {
              "transform": [{"filter": "isValid(datum.lo)"}, {"fold": ["lo", "hi"], "as": ["k", "v"]}],
              "mark": {"type": "tick", "orient": "horizontal", "size": 12, "thickness": 1.5, "color": "#bc8f8f"},
              "encoding": {
                "x": {"field": "x", "type": "quantitative", "axis": null},
                "y": {"field": "v", "type": "quantitative", "axis": null}
              }
            },
            {
              "transform": [{"filter": "datum.s=='T/Tc=0.24'"}],
              "mark": {"type": "point", "filled": false, "size": 180, "strokeWidth": 2, "color": "#bc8f8f", "opacity": 1, "shape": "M-0.8,-0.8L0.8,0.8M-0.8,0.8L0.8,-0.8"},
              "encoding": {
                "x": {"field": "x", "type": "quantitative",
                  "axis": {"orient": "top", "values": [0,4,8,12,16,20,24,28,32], "labels": false, "title": null, "tickSize": {"condition": {"test": "datum.value%8==0", "value": -14}, "value": -7}}},
                "y": {"field": "y", "type": "quantitative",
                  "axis": {"orient": "left", "offset": -230, "values": [0.00001,0.00002,0.00003,0.00004,0.00005,0.00006,0.00007,0.00008,0.00009,0.0001,0.0002,0.0003,0.0004,0.0005,0.0006,0.0007,0.0008,0.0009,0.001,0.002,0.003,0.004,0.005,0.006,0.007,0.008,0.009,0.01,0.02,0.03,0.04,0.05,0.06,0.07,0.08,0.09,0.1,0.2,0.3,0.4,0.5,0.6,0.7,0.8,0.9,1], "labelExpr": "abs(log(datum.value)/LN10-round(log(datum.value)/LN10))>0.01 ? '' : ['','10⁻¹','10⁻²','10⁻³','10⁻⁴','',''][-round(log(datum.value)/LN10)]", "tickSize": {"condition": {"test": "abs(log(datum.value)/LN10-round(log(datum.value)/LN10))<0.01", "value": 10}, "value": 6}, "labelPadding": 2, "title": null}}
              }
            },
            {
              "transform": [{"filter": "datum.s=='T/Tc=1.90'"}],
              "mark": {"type": "point", "filled": false, "size": 210, "strokeWidth": 2, "color": "#ff0000", "opacity": 1, "shape": "triangle-right"},
              "encoding": {
                "x": {"field": "x", "type": "quantitative", "axis": null},
                "y": {"field": "y", "type": "quantitative", "axis": null}
              }
            },
            {
              "data": {"values": [{"label": "negative parity"}]},
              "mark": {"type": "text", "fontSize": 30, "font": "Liberation Serif", "color": "black", "align": "center", "baseline": "middle"},
              "encoding": {
                "x": {"datum": 16, "type": "quantitative", "axis": null},
                "y": {"datum": 0.4, "type": "quantitative", "axis": null},
                "text": {"field": "label"}
              }
            }
          ],
          "resolve": {"axis": {"x": "independent", "y": "independent"}}
        }
      ],
      "spacing": 0,
      "bounds": "flush"
    }
  ]
}
